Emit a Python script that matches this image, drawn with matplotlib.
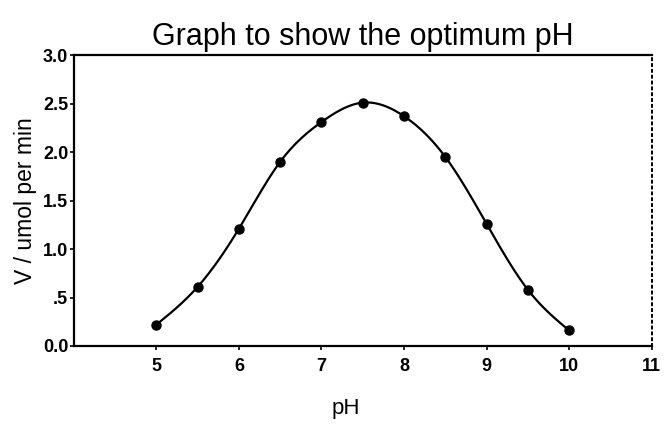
"""Graph to show the optimum pH: enzyme rate V against pH."""

import matplotlib
matplotlib.use("Agg")
import matplotlib.pyplot as plt
import numpy as np

# data
ph_values = [5.0, 5.5, 6.0, 6.5, 7.0, 7.5, 8.0, 8.5, 9.0, 9.5, 10.0]
rate_values = [0.22, 0.61, 1.21, 1.90, 2.31, 2.51, 2.37, 1.95, 1.26, 0.58, 0.16]

x_ticks = [5, 6, 7, 8, 9, 10, 11]
y_ticks = [0.0, 0.5, 1.0, 1.5, 2.0, 2.5, 3.0]
y_tick_labels = ["0.0", ".5", "1.0", "1.5", "2.0", "2.5", "3.0"]


def natural_spline(x, y, n=400):
    """Smooth curve through the points (natural cubic spline)."""
    x = np.asarray(x, float)
    y = np.asarray(y, float)
    k = len(x)
    h = np.diff(x)
    a = np.zeros((k, k))
    b = np.zeros(k)
    a[0, 0] = a[-1, -1] = 1.0
    for i in range(1, k - 1):
        a[i, i - 1] = h[i - 1]
        a[i, i] = 2 * (h[i - 1] + h[i])
        a[i, i + 1] = h[i]
        b[i] = 6 * ((y[i + 1] - y[i]) / h[i] - (y[i] - y[i - 1]) / h[i - 1])
    m = np.linalg.solve(a, b)
    xs = np.linspace(x[0], x[-1], n)
    idx = np.clip(np.searchsorted(x, xs) - 1, 0, k - 2)
    t0 = x[idx + 1] - xs
    t1 = xs - x[idx]
    hi = h[idx]
    ys = (m[idx] * t0**3 + m[idx + 1] * t1**3) / (6 * hi) \
        + (y[idx] / hi - m[idx] * hi / 6) * t0 \
        + (y[idx + 1] / hi - m[idx + 1] * hi / 6) * t1
    return xs, ys


plt.rcParams["font.family"] = ["Liberation Sans", "DejaVu Sans"]

fig = plt.figure(figsize=(6.65, 4.24), dpi=100)
ax = fig.add_axes([0.111, 0.184, 0.869, 0.686])

xs, ys = natural_spline(ph_values, rate_values)
ax.plot(xs, ys, color="black", linewidth=1.6)
ax.plot(ph_values, rate_values, "o", color="black", markersize=6.5)

ax.set_xlim(4, 11)
ax.set_ylim(0, 3.0)
ax.set_xticks(x_ticks)
ax.set_xticklabels([str(t) for t in x_ticks], fontsize=13, fontweight="bold")
ax.set_yticks(y_ticks)
ax.set_yticklabels(y_tick_labels, fontsize=13, fontweight="bold")
ax.tick_params(axis="both", direction="out", length=3, width=1.2, pad=1)
ax.tick_params(axis="x", pad=6)

for side in ("left", "bottom", "top"):
    ax.spines[side].set_linewidth(1.6)
ax.spines["right"].set_linestyle((0, (1, 2)))
ax.spines["right"].set_linewidth(1.4)

ax.set_title("Graph to show the optimum pH", fontsize=22, pad=7)
ax.set_ylabel("V / umol per min", fontsize=16.5, labelpad=4)
ax.set_xlabel("pH", fontsize=16)
ax.xaxis.set_label_coords(0.47, -0.18)

fig.savefig("out.png", dpi=100)
